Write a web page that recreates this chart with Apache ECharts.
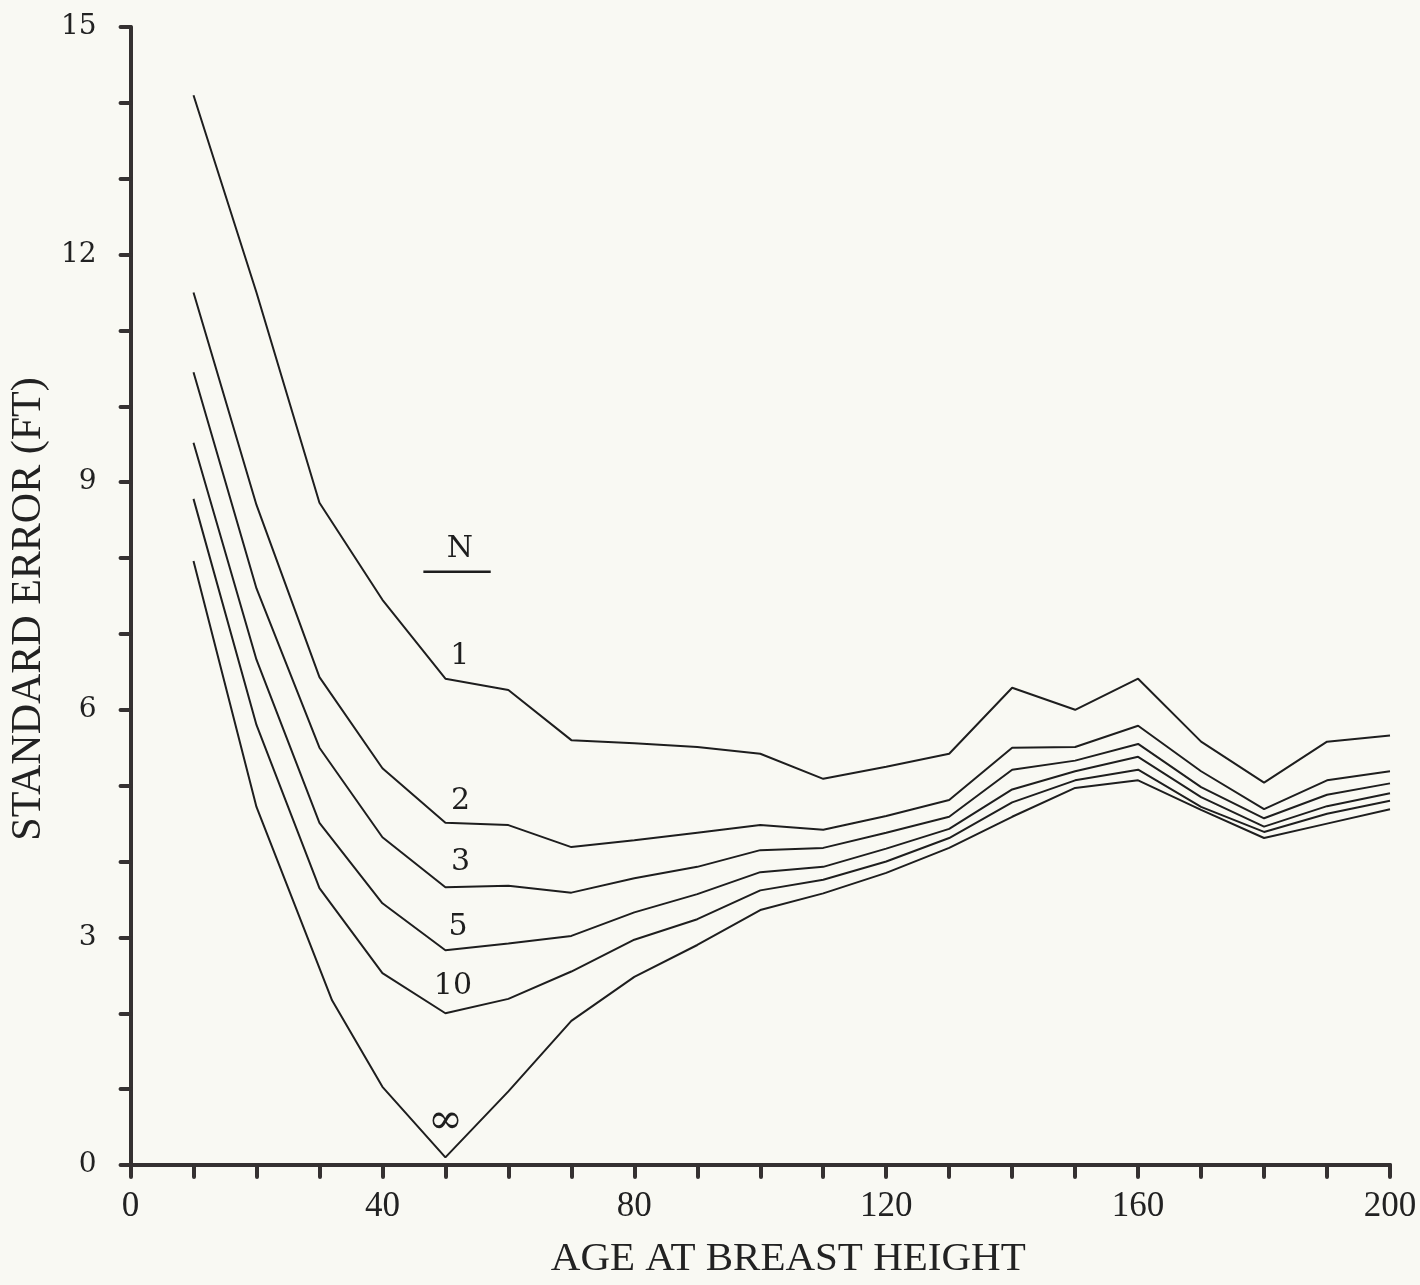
<!DOCTYPE html>
<html>
<head>
<meta charset="utf-8">
<script src="https://cdn.jsdelivr.net/npm/echarts@6/dist/echarts.min.js"></script>
<style>
  html, body { margin: 0; padding: 0; background: #f9f9f3; }
  #main { width: 1420px; height: 1285px; }
</style>
</head>
<body>
<div id="main"></div>
<script>
// age at breast height for the plotted points
const ages = [10, 20, 30, 40, 50, 60, 70, 80, 90, 100, 110, 120, 130, 140, 150, 160, 170, 180, 190, 200]
// standard error (ft) for each N
const seN1 = [14.1, 11.5, 8.73, 7.45, 6.41, 6.26, 5.60, 5.56, 5.51, 5.42, 5.09, 5.25, 5.42, 6.29, 6.00, 6.41, 5.58, 5.04, 5.58, 5.66]
const seN2 = [11.5, 8.70, 6.43, 5.23, 4.51, 4.48, 4.19, 4.28, 4.38, 4.48, 4.42, 4.60, 4.81, 5.50, 5.51, 5.79, 5.19, 4.69, 5.07, 5.19]
const seN3 = [10.45, 7.60, 5.50, 4.32, 3.66, 3.68, 3.59, 3.78, 3.93, 4.15, 4.18, 4.38, 4.59, 5.21, 5.33, 5.55, 4.98, 4.57, 4.88, 5.03]
const seN5 = [9.52, 6.66, 4.51, 3.45, 2.83, 2.92, 3.02, 3.33, 3.57, 3.86, 3.93, 4.17, 4.43, 4.95, 5.19, 5.38, 4.85, 4.46, 4.73, 4.90]
const seN10 = [8.78, 5.80, 3.65, 2.53, 2.00, 2.19, 2.55, 2.97, 3.24, 3.62, 3.76, 4.00, 4.31, 4.78, 5.07, 5.21, 4.72, 4.39, 4.63, 4.80]
// the N = infinity curve has its third point a little right of 30
const infAges = [10, 20, 32, 40, 50, 60, 70, 80, 90, 100, 110, 120, 130, 140, 150, 160, 170, 180, 190, 200]
const seInf = [7.96, 4.72, 2.17, 1.03, 0.10, 0.97, 1.90, 2.48, 2.90, 3.36, 3.58, 3.85, 4.18, 4.59, 4.97, 5.07, 4.68, 4.31, 4.50, 4.69]

const curveNames = ['1', '2', '3', '5', '10', '\u221e']
const xLabelStep = 40
const yLabelStep = 3

const chart = echarts.init(document.getElementById('main'))

const ink = '#1e1e1e'
const axisInk = '#353131'

function makeSeries (name, xs, ys, labelDx, labelDy) {
  const i50 = xs.indexOf(50)
  return {
    name: name,
    type: 'line',
    symbol: 'none',
    silent: true,
    data: xs.map((x, i) => [x, ys[i]]),
    lineStyle: { color: ink, width: 2 },
    markPoint: {
      symbol: 'circle',
      symbolSize: 0,
      silent: true,
      data: [{ coord: [50 + labelDx, ys[i50] + labelDy] }],
      label: {
        show: true,
        position: 'inside',
        formatter: name,
        color: ink,
        fontFamily: 'DejaVu Serif',
        fontSize: name === '\u221e' ? 42 : 30
      }
    }
  }
}

const option = {
  backgroundColor: '#f9f9f3',
  animation: false,
  grid: { left: 127, right: 30, top: 27, bottom: 120 },
  xAxis: {
    type: 'value',
    min: 0,
    max: 200,
    interval: 10,
    name: 'AGE AT BREAST HEIGHT',
    nameLocation: 'middle',
    nameGap: 74,
    nameTextStyle: { fontFamily: 'Liberation Serif', fontSize: 41, color: '#222', padding: [0, 0, 0, 56] },
    axisLine: { show: true, lineStyle: { color: axisInk, width: 4, cap: 'round' } },
    axisTick: { show: true, length: 12, lineStyle: { color: axisInk, width: 4, cap: 'round' } },
    splitLine: { show: false },
    axisLabel: {
      margin: 24,
      fontFamily: 'Liberation Serif',
      fontSize: 35,
      color: '#222',
      formatter: v => (v % xLabelStep === 0 ? String(v) : '')
    }
  },
  yAxis: {
    type: 'value',
    min: 0,
    max: 15,
    interval: 1,
    name: 'STANDARD ERROR (FT)',
    nameLocation: 'middle',
    nameGap: 78,
    nameTextStyle: { fontFamily: 'Liberation Serif', fontSize: 42, color: '#222', padding: [0, 26, 0, 0] },
    axisLine: { show: true, lineStyle: { color: axisInk, width: 4, cap: 'round' } },
    axisTick: { show: true, length: 10, lineStyle: { color: axisInk, width: 4, cap: 'round' } },
    splitLine: { show: false },
    axisLabel: {
      margin: 34,
      fontFamily: 'DejaVu Serif',
      fontSize: 28,
      color: '#222',
      formatter: v => (v % yLabelStep === 0 ? String(v) : '')
    }
  },
  series: [
    makeSeries(curveNames[0], ages, seN1, 2.3, 0.3),
    makeSeries(curveNames[1], ages, seN2, 2.4, 0.28),
    makeSeries(curveNames[2], ages, seN3, 2.4, 0.33),
    makeSeries(curveNames[3], ages, seN5, 2.0, 0.3),
    makeSeries(curveNames[4], ages, seN10, 1.2, 0.36),
    makeSeries(curveNames[5], infAges, seInf, 0, 0.47)
  ]
}

chart.setOption(option)

// the "N" heading with its rule, set just above the curve labels
const head = chart.convertToPixel({ gridIndex: 0 }, [52.3, 8.12])
const ruleL = chart.convertToPixel({ gridIndex: 0 }, [46.5, 7.82])
const ruleR = chart.convertToPixel({ gridIndex: 0 }, [57.2, 7.82])
chart.setOption({
  graphic: [
    {
      type: 'text',
      x: head[0],
      y: head[1],
      style: {
        text: 'N',
        fontFamily: 'DejaVu Serif',
        fontSize: 30,
        fill: ink,
        align: 'center',
        verticalAlign: 'middle'
      }
    },
    {
      type: 'line',
      shape: { x1: ruleL[0], y1: ruleL[1], x2: ruleR[0], y2: ruleR[1] },
      style: { stroke: ink, lineWidth: 2.5 }
    }
  ]
})
</script>
</body>
</html>
